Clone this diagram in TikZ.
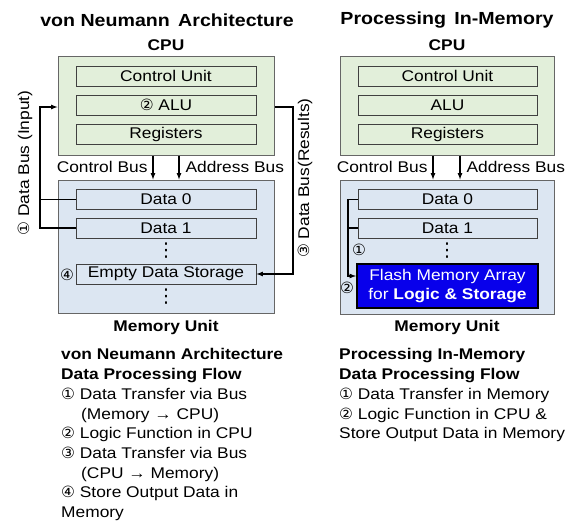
\documentclass[tikz,border=0pt]{standalone}
\usepackage{fontspec}
\setmainfont{Liberation Sans}[FakeStretch=1.12]
\newfontfamily\numfont{DejaVu Sans}
\usetikzlibrary{arrows}
\definecolor{cpugreen}{RGB}{226,239,218}
\definecolor{memblue}{RGB}{220,230,242}
\definecolor{flashblue}{RGB}{8,0,235}
\newcommand{\cnum}[1]{{\numfont #1}}
\tikzset{
  unitbox/.style={draw=black!60, line width=1pt, inner sep=0pt},
  partbox/.style={draw=black!75, line width=1pt, inner sep=0pt, minimum width=180pt, minimum height=20pt},
  vdotsnode/.style={inner sep=0pt, font=\numfont\fontsize{19}{19}\selectfont},
  bus/.style={line width=1.2pt},
  txt/.style={font=\fontsize{15.5}{18}\selectfont},
  hdr/.style={font=\fontsize{15.5}{18}\selectfont\bfseries},
  ttl/.style={font=\fontsize{17.5}{20}\selectfont\bfseries},
  flow/.style={anchor=north west, align=left, inner sep=0pt, font=\fontsize{15.5}{19.7}\selectfont},
}
\begin{document}
\begin{tikzpicture}[x=1pt,y=-1pt,txt]
\useasboundingbox (0,0) rectangle (581,522);
% von Neumann side
\node[ttl] (titleL) at (167,20) {von Neumann\, Architecture};
\node[hdr] (cpuLname) at (166,45) {CPU};
\node[unitbox, fill=cpugreen, minimum width=216pt, minimum height=99pt] (cpuL) at (166,105.5) {};
\foreach \n/\y/\t in {cuL/76/Control Unit, aluL/105/\cnum{②} ALU, regL/134/Registers}
  \node[partbox] (\n) at (166,\y) {\t};
\node[unitbox, fill=memblue, minimum width=216pt, minimum height=133pt] (memL) at (166,246.5) {};
\node[partbox] (d0L) at (166,199.5) {Data 0};
\node[partbox] (d1L) at (166,228) {Data 1};
\node[vdotsnode] (dotsLa) at (166,251) {⋮};
\node[partbox] (emptyL) at (166,274) {Empty Data Storage};
\node[vdotsnode] (dotsLb) at (166,297) {⋮};
\node[inner sep=0pt] (n4) at (67,275) {\cnum{④}};
\node[hdr] (memLname) at (166,327) {Memory Unit};
% buses
\draw[bus,-latex] ([xshift=-13pt]cpuL.south) -- ([xshift=-13pt]memL.north);
\draw[bus,-latex] ([xshift=13pt]cpuL.south) -- ([xshift=13pt]memL.north);
\node[anchor=east] (ctlL) at (151,167) {Control Bus};
\node[anchor=west] (adrL) at (182,167) {Address Bus};
\coordinate (inbus) at (40,0);
\coordinate (outbus) at (293,0);
\coordinate (cpuin) at ([yshift=-1.5pt]cpuL.west);
\draw[bus] (d0L.west) -- (d0L.west -| inbus);
\draw[bus,-latex] (d1L.west) -- (d1L.west -| inbus) |- (cpuin);
\draw[bus,-latex] (cpuin -| cpuL.east) -| (outbus |- emptyL.east) -- (emptyL.east);
\node[rotate=90] (inlbl) at (25,163) {\cnum{①} Data Bus (Input)};
\node[rotate=90] (outlbl) at (305,178) {\cnum{③} Data Bus(Results)};
\node[flow] (flowL) at (61,348.5) {\textbf{von Neumann Architecture}\\
  \textbf{Data Processing Flow}\\
  \cnum{①} Data Transfer via Bus\\
  \hspace*{20pt}(Memory → CPU)\\
  \cnum{②} Logic Function in CPU\\
  \cnum{③} Data Transfer via Bus\\
  \hspace*{20pt}(CPU → Memory)\\
  \cnum{④} Store Output Data in\\
  Memory};
% processing in-memory side
\node[ttl] (titleR) at (447,20) {Processing\, In-Memory};
\node[hdr] (cpuRname) at (447,45) {CPU};
\node[unitbox, fill=cpugreen, minimum width=214pt, minimum height=99pt] (cpuR) at (447,105.5) {};
\foreach \n/\y/\t in {cuR/76/Control Unit, aluR/105/ALU, regR/134/Registers}
  \node[partbox, minimum width=179pt] (\n) at (447.5,\y) {\t};
\node[unitbox, fill=memblue, minimum width=214pt, minimum height=134pt] (memR) at (447,247) {};
\node[partbox, minimum width=179pt] (d0R) at (447.5,199.5) {Data 0};
\node[partbox, minimum width=179pt] (d1R) at (447.5,228) {Data 1};
\node[vdotsnode] (dotsR) at (447,251) {⋮};
\node[draw=black, line width=2pt, fill=flashblue, text=white, align=center, inner sep=0pt,
  minimum width=181pt, minimum height=44pt, font=\fontsize{15.5}{19}\selectfont] (flash) at (447.5,286)
  {Flash Memory Array\\for \textbf{Logic \& Storage}};
\draw[bus,-latex] ([xshift=-14pt]cpuR.south) -- ([xshift=-14pt]memR.north);
\draw[bus,-latex] ([xshift=13pt]cpuR.south) -- ([xshift=13pt]memR.north);
\node[anchor=east] (ctlR) at (431,167) {Control Bus};
\node[anchor=west] (adrR) at (463,167) {Address Bus};
\coordinate (pimbus) at (348,0);
\coordinate (flashin) at ([yshift=10pt]flash.west);
\draw[bus] (d1R.west) -- (d1R.west -| pimbus);
\draw[bus,-latex] (d0R.west) -| (pimbus |- flashin) -- (flashin);
\node[inner sep=0pt] (p1) at (359,250) {\cnum{①}};
\node[inner sep=0pt] (p2) at (347,288) {\cnum{②}};
\node[hdr] (memRname) at (447,327) {Memory Unit};
\node[flow] (flowR) at (339,348.5) {\textbf{Processing In-Memory}\\
  \textbf{Data Processing Flow}\\
  \cnum{①} Data Transfer in Memory\\
  \cnum{②} Logic Function in CPU \&\\
  Store Output Data in Memory};
\end{tikzpicture}
\end{document}
